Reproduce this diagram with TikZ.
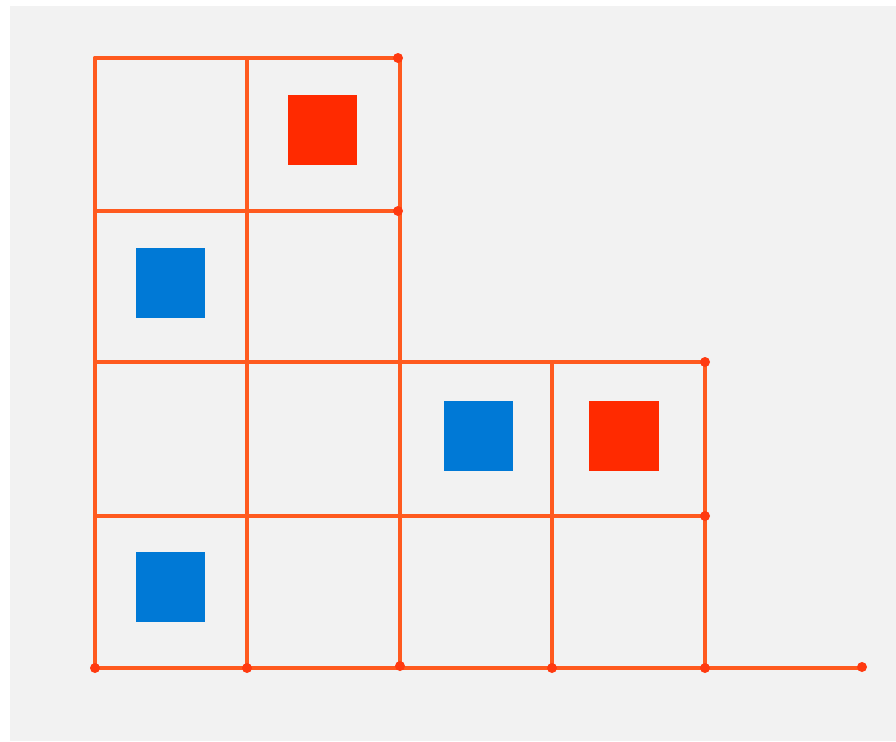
\documentclass[tikz,border=0pt]{standalone}
\usepackage{tikz}
\usetikzlibrary{positioning}
\definecolor{gridline}{HTML}{FF5A1F}
\definecolor{dotred}{HTML}{FF3A10}
\definecolor{paper}{HTML}{F2F2F2}
\definecolor{tokred}{HTML}{FF2A00}
\definecolor{tokblue}{HTML}{0079D6}

\begin{document}
\begin{tikzpicture}[x=0.02cm, y=-0.02cm,
    line/.style={draw=gridline, line width=0.08cm, line cap=round},
    knot/.style={fill=dotred},
    token/.style={minimum size=1.4cm, inner sep=0pt, outer sep=0pt}]
    % sheet
    \fill[white] (0,0) rectangle (896,741);
    \fill[paper] (10,6) rectangle (896,741);
    % rows
    \draw[line] (95,58) -- (398,58);
    \draw[line] (95,211) -- (398,211);
    \draw[line] (95,362) -- (705,362);
    \draw[line] (95,516) -- (705,516);
    \draw[line] (95,668) -- (862,668);
    % columns
    \foreach \x in {95,247,400}
        \draw[line] (\x,58) -- (\x,668);
    \foreach \x in {552,705}
        \draw[line] (\x,362) -- (\x,668);
    % dots
    \foreach \p in {(398,58),(398,211),(705,362),(705,516),(95,668),(247,668),(400,666),(552,668),(705,668),(862,667)}
        \fill[knot] \p circle[radius=0.1cm];
    % tokens
    \node[token, fill=tokred] (r1) at (322.5,130) {};
    \node[token, fill=tokblue] (b1) at (170.5,282.5) {};
    \node[token, fill=tokblue] (b2) at (478.5,436) {};
    \node[token, fill=tokred] (r2) at (623.5,436) {};
    \node[token, fill=tokblue] (b3) at (170.5,587) {};
\end{tikzpicture}
\end{document}
